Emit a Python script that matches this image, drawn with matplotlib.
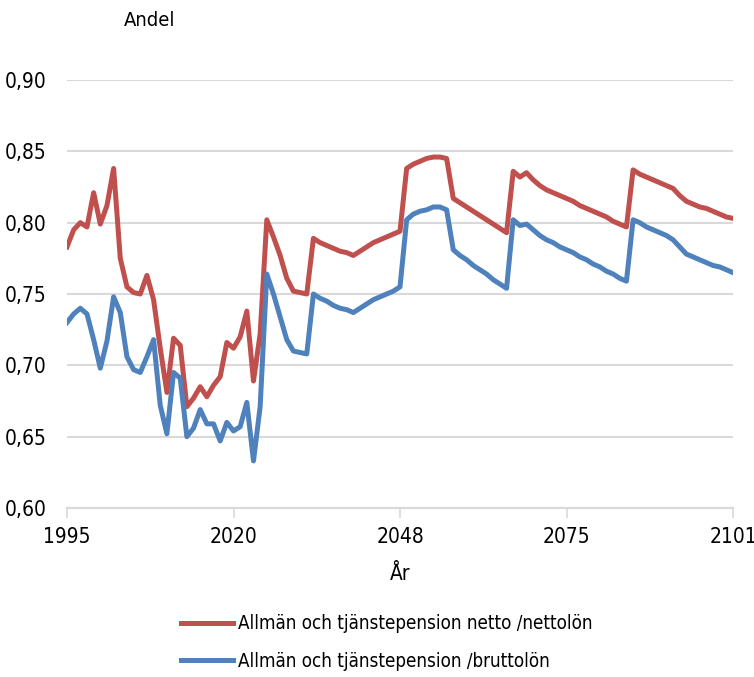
import numpy as np
import matplotlib
matplotlib.use('Agg')
import matplotlib.pyplot as plt
from matplotlib import font_manager
from matplotlib.ticker import FuncFormatter

# prefer a narrow face, the original uses a condensed font
names = {f.name for f in font_manager.fontManager.ttflist}
narrow = [f for f in font_manager.fontManager.ttflist
          if f.name == 'DejaVu Sans' and 'condensed' in str(f.stretch)]
if 'Liberation Sans Narrow' in names:
    plt.rcParams['font.family'] = ['Liberation Sans Narrow', 'DejaVu Sans']
else:
    plt.rcParams['font.family'] = ['DejaVu Sans']
    if narrow:
        plt.rcParams['font.stretch'] = 'condensed'

# ratios, one value per category step
netto = [0.783, 0.795, 0.800, 0.797, 0.821, 0.799, 0.812, 0.838, 0.775, 0.755,
         0.751, 0.750, 0.763, 0.746, 0.712, 0.681, 0.719, 0.714, 0.671, 0.677,
         0.685, 0.678, 0.686, 0.692, 0.716, 0.712, 0.720, 0.738, 0.689, 0.722,
         0.802, 0.790, 0.777, 0.761, 0.752, 0.751, 0.750, 0.789, 0.786, 0.784,
         0.782, 0.780, 0.779, 0.777, 0.780, 0.783, 0.786, 0.788, 0.790, 0.792,
         0.794, 0.838, 0.841, 0.843, 0.845, 0.846, 0.846, 0.845, 0.817, 0.814,
         0.811, 0.808, 0.805, 0.802, 0.799, 0.796, 0.793, 0.836, 0.832, 0.835,
         0.830, 0.826, 0.823, 0.821, 0.819, 0.817, 0.815, 0.812, 0.810, 0.808,
         0.806, 0.804, 0.801, 0.799, 0.797, 0.837, 0.834, 0.832, 0.830, 0.828,
         0.826, 0.824, 0.819, 0.815, 0.813, 0.811, 0.810, 0.808, 0.806, 0.804,
         0.803]
brutto = [0.730, 0.736, 0.740, 0.736, 0.718, 0.698, 0.717, 0.748, 0.737, 0.706,
          0.697, 0.695, 0.706, 0.718, 0.672, 0.652, 0.695, 0.691, 0.650, 0.656,
          0.669, 0.659, 0.659, 0.647, 0.660, 0.654, 0.657, 0.674, 0.633, 0.671,
          0.764, 0.750, 0.734, 0.718, 0.710, 0.709, 0.708, 0.750, 0.747, 0.745,
          0.742, 0.740, 0.739, 0.737, 0.740, 0.743, 0.746, 0.748, 0.750, 0.752,
          0.755, 0.802, 0.806, 0.808, 0.809, 0.811, 0.811, 0.809, 0.781, 0.777,
          0.774, 0.770, 0.767, 0.764, 0.760, 0.757, 0.754, 0.802, 0.798, 0.799,
          0.795, 0.791, 0.788, 0.786, 0.783, 0.781, 0.779, 0.776, 0.774, 0.771,
          0.769, 0.766, 0.764, 0.761, 0.759, 0.802, 0.800, 0.797, 0.795, 0.793,
          0.791, 0.788, 0.783, 0.778, 0.776, 0.774, 0.772, 0.770, 0.769, 0.767,
          0.765]
tick_labels = ['1995', '2020', '2048', '2075', '2101']

label_netto = 'Allmän och tjänstepension netto /nettolön'
label_brutto = 'Allmän och tjänstepension /bruttolön'

x = np.arange(len(netto))

fig = plt.figure(figsize=(7.54, 6.77), dpi=100)
ax = fig.add_axes([67/754, 1-508/677, 666/754, 428/677])

ax.plot(x, netto, color='#C0504D', lw=3.6, solid_joinstyle='round', label=label_netto)
ax.plot(x, brutto, color='#4F81BD', lw=3.6, solid_joinstyle='round', label=label_brutto)

ax.set_xlim(0, len(netto) - 1)
ax.set_ylim(0.60, 0.90)
ax.set_yticks(np.arange(0.60, 0.901, 0.05))
ax.yaxis.set_major_formatter(FuncFormatter(lambda v, p: f'{v:.2f}'.replace('.', ',')))
ax.set_xticks(np.linspace(0, len(netto) - 1, len(tick_labels)))
ax.set_xticklabels(tick_labels)

ax.grid(axis='y', color='#d9d9d9', lw=1.5)
ax.set_axisbelow(True)
for s in ['left', 'right', 'top']:
    ax.spines[s].set_visible(False)
ax.spines['bottom'].set_color('#d9d9d9')
ax.spines['bottom'].set_linewidth(1.5)
ax.tick_params(axis='y', length=0, pad=15, labelsize=15)
ax.tick_params(axis='x', length=7, width=1.2, color='#d9d9d9', pad=7, labelsize=15)

ax.set_xlabel('År', fontsize=15, labelpad=12)
fig.text(150/754, 1-20/677, 'Andel', fontsize=14.5, ha='center', va='center')

fig.legend(loc='center', bbox_to_anchor=(0.513, 0.051), ncol=1, frameon=False,
           fontsize=13.5, handlelength=2.75, handletextpad=0.3, labelspacing=1.0)

fig.savefig('out.png', dpi=100)
